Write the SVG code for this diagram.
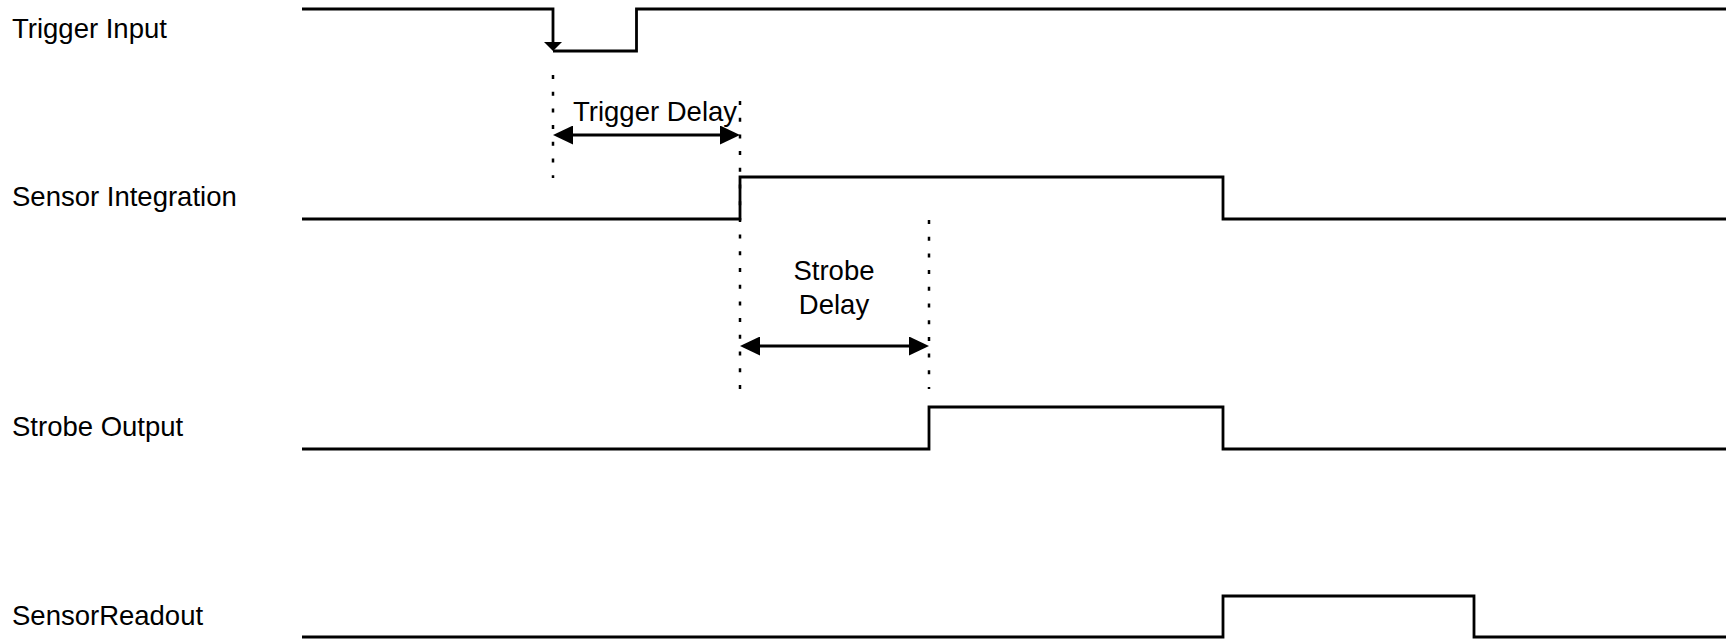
<svg xmlns="http://www.w3.org/2000/svg" width="1726" height="639" viewBox="0 0 1726 639">
<style>
.lbl{font-family:"Liberation Sans",Arial,sans-serif;font-size:27.5px;fill:#000}
.sig{fill:none;stroke:#000;stroke-width:2.8;stroke-linejoin:miter;stroke-linecap:butt}
.dot{fill:none;stroke:#000;stroke-width:2.5;stroke-dasharray:4 12.7}
.dim{fill:none;stroke:#000;stroke-width:2.8}
</style>
<defs>
<marker id="ah" viewBox="0 0 20 19" refX="10" refY="9.5" markerWidth="20" markerHeight="19" markerUnits="userSpaceOnUse" orient="auto-start-reverse">
<path d="M0,0 L20,9.5 L0,19 z" fill="#000"/>
</marker>
<marker id="eh" viewBox="0 0 9.5 19" refX="4.5" refY="9.5" markerWidth="9.5" markerHeight="19" markerUnits="userSpaceOnUse" orient="auto">
<path d="M0,0 L9.5,9.5 L0,19 z" fill="#000"/>
</marker>
</defs>
<rect width="1726" height="639" fill="#fff"/>
<g id="trigger-input">
<text class="lbl" x="12" y="38">Trigger Input</text>
<path class="sig" d="M302,9 H553 V46" marker-end="url(#eh)"/>
<path class="sig" d="M553,51 H636.5 V9 H1726"/>
</g>
<g id="sensor-integration">
<text class="lbl" x="12" y="206">Sensor Integration</text>
<path class="sig" d="M302,219 H740 V177 H1223 V219 H1726"/>
</g>
<g id="strobe-output">
<text class="lbl" x="12" y="436">Strobe Output</text>
<path class="sig" d="M302,449 H929 V407 H1223 V449 H1726"/>
</g>
<g id="sensor-readout">
<text class="lbl" x="12" y="625">SensorReadout</text>
<path class="sig" d="M302,637 H1223 V596 H1474 V637 H1726"/>
</g>
<g id="connectors">
<path class="dot" d="M553,75 V178"/>
<path class="dot" d="M740,101 V389"/>
<path class="dot" d="M929,220 V389"/>
<path class="dim" d="M563,135 H730" marker-start="url(#ah)" marker-end="url(#ah)"/>
<path class="dim" d="M750,346 H919" marker-start="url(#ah)" marker-end="url(#ah)"/>
</g>
<g id="trigger-delay-label">
<text class="lbl" x="573" y="121">Trigger Delay</text>
</g>
<g id="strobe-delay-label">
<text class="lbl" x="834" y="280" text-anchor="middle">Strobe</text>
<text class="lbl" x="834" y="314" text-anchor="middle">Delay</text>
</g>
</svg>
